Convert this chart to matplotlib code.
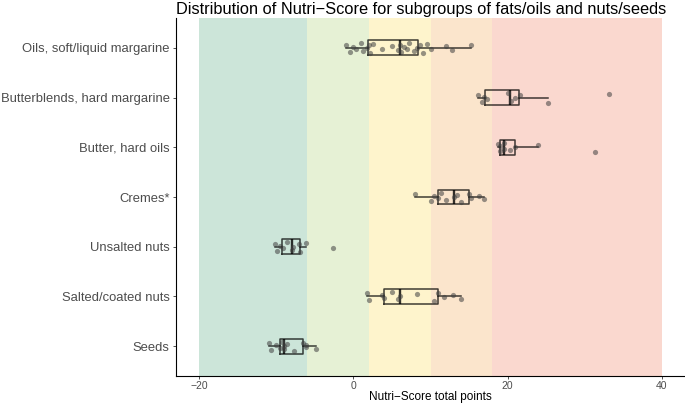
import matplotlib.pyplot as plt

plt.rcParams['font.family'] = ['Liberation Sans', 'DejaVu Sans']

# subgroups, top to bottom
groups = ["Oils, soft/liquid margarine", "Butterblends, hard margarine", "Butter, hard oils",
          "Cremes*", "Unsalted nuts", "Salted/coated nuts", "Seeds"]

oils = [-1, -0.5, 0, 0.3, 1, 1.2, 1.8, 2, 2.2, 2.5, 3.7, 5, 5.8, 6, 6.2, 6.5, 7, 7.2,
        7.8, 8.2, 8.6, 9, 9.5, 10, 12, 12.8, 15.2]
butterblends = [16.2, 16.7, 17, 17.3, 20, 20.5, 21, 21.6, 25.2, 33.2]
butter = [18.8, 19, 19, 19.5, 19.5, 20.3, 21, 24, 31.3]
cremes = [8, 10, 10.5, 11, 11.3, 12, 13, 13.5, 14, 15, 15.2, 16.3, 17]
unsalted = [-10.1, -9.9, -9.5, -9.1, -8.6, -8, -7.8, -7, -6.9, -6.1, -2.7]
salted = [1.8, 2, 3.7, 4, 5, 5.8, 6.1, 8.3, 10.5, 11, 11.8, 12.9, 13.9]
seeds = [-10.9, -10.7, -10, -9.5, -9.3, -9, -9, -8.6, -7.7, -6.5, -6.2, -6.1, -4.8]
values = [oils, butterblends, butter, cremes, unsalted, salted, seeds]

# Nutri-Score bands for fats/oils/nuts
band_edges = [-20, -6, 2, 10, 18, 40]
band_colors = ['#038141', '#85BB2F', '#FECB02', '#EE8100', '#E63E11']

x_ticks = [-20, 0, 20, 40]

fig = plt.figure(figsize=(6.85, 4.03), dpi=100)
ax = fig.add_axes([176 / 685, 27 / 403, 509 / 685, 358 / 403])

for lo, hi, c in zip(band_edges[:-1], band_edges[1:], band_colors):
    ax.axvspan(lo, hi, color=c, alpha=0.2, lw=0, zorder=0)

n = len(groups)
pos = [n - i for i in range(n)]

line = dict(color='black', alpha=0.75, lw=1.1)
ax.boxplot(values, positions=pos, vert=False, widths=0.3, showfliers=False,
           boxprops=line, whiskerprops=line,
           capprops=dict(lw=0), medianprops=dict(color='black', alpha=0.8, lw=1.7),
           zorder=3)

jit = [0.06, -0.08, 0.02, -0.03, 0.09, -0.06, 0.0, 0.05, -0.1, 0.07, -0.02, 0.03, -0.05]
for p, vals in zip(pos, values):
    ys = [p + jit[k % len(jit)] for k in range(len(vals))]
    ax.scatter(vals, ys, s=14, color='#404040', alpha=0.55, lw=0, zorder=4)

ax.set_xlim(-23, 43)
ax.set_ylim(0.4, n + 0.6)
ax.set_xticks(x_ticks)
ax.set_yticks(pos)
ax.set_yticklabels(groups, fontsize=9.4, color='#4d4d4d')
ax.tick_params(axis='x', labelsize=7.5, labelcolor='#4d4d4d', length=2.5, width=0.6,
               color='#333333', pad=1)
ax.tick_params(axis='y', length=2.5, width=0.6, color='#333333', pad=2)
ax.set_xlabel("Nutri\u2212Score total points", fontsize=8.5, labelpad=0)
ax.set_title("Distribution of Nutri\u2212Score for subgroups of fats/oils and nuts/seeds",
             fontsize=11.8, loc='left', pad=3)

for s in ['top', 'right']:
    ax.spines[s].set_visible(False)
for s in ['left', 'bottom']:
    ax.spines[s].set_linewidth(0.8)

fig.savefig('out.png', dpi=100)
